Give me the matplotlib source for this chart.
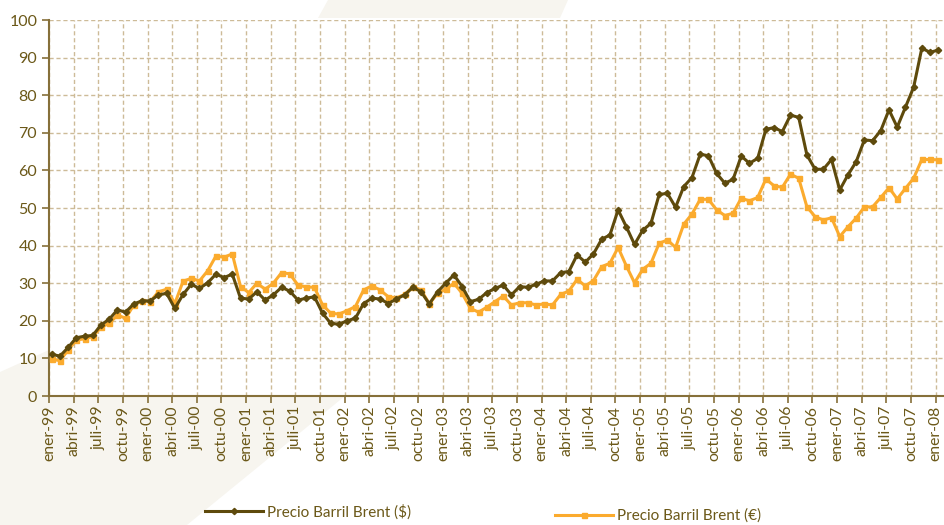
import matplotlib
matplotlib.use('Agg')
import matplotlib.pyplot as plt
from matplotlib.patches import Polygon
import numpy as np

plt.rcParams['font.family'] = ['Lato', 'DejaVu Sans']

# Precio barril Brent, mensual ene-99 .. ene-08
brent_usd = [11.1, 10.6, 12.9, 15.5, 15.9, 16.1, 18.9, 20.4, 22.9, 22.3, 24.5, 25.3,
             25.3, 26.9, 27.3, 23.3, 27.0, 29.7, 28.6, 30.1, 32.4, 31.5, 32.4, 26.0,
             25.8, 27.7, 25.5, 26.9, 28.9, 27.9, 25.5, 26.0, 26.4, 22.0, 19.3, 19.1,
             20.0, 20.7, 24.6, 26.0, 25.8, 24.6, 25.8, 26.9, 28.9, 27.7, 24.5, 27.7,
             30.0, 32.2, 29.1, 25.1, 25.7, 27.5, 28.6, 29.5, 26.9, 29.1, 28.9, 29.7,
             30.6, 30.6, 32.8, 33.1, 37.5, 35.6, 37.8, 41.7, 42.8, 49.5, 45.0, 40.3,
             44.1, 45.9, 53.6, 53.9, 50.2, 55.7, 58.1, 64.3, 63.9, 59.2, 56.6, 57.6,
             63.8, 61.9, 63.2, 70.9, 71.4, 70.3, 74.7, 74.1, 64.1, 60.3, 60.3, 62.9,
             54.8, 58.8, 62.3, 68.1, 67.9, 70.6, 76.1, 71.5, 76.8, 82.1, 92.5, 91.4,
             92.0]
brent_eur = [9.8, 9.4, 12.2, 14.9, 15.2, 15.8, 18.3, 19.3, 21.5, 20.7, 24.2, 25.3,
             25.1, 27.7, 28.4, 24.6, 30.5, 31.3, 30.6, 33.3, 37.2, 36.9, 37.8, 29.1,
             27.5, 30.0, 28.4, 30.0, 32.8, 32.5, 29.5, 29.0, 28.9, 24.2, 22.0, 21.8,
             22.7, 23.8, 28.2, 29.3, 28.2, 26.4, 26.1, 27.0, 29.1, 28.2, 24.5, 27.3,
             28.4, 30.0, 27.3, 23.3, 22.3, 23.6, 25.1, 26.6, 24.2, 24.8, 24.8, 24.2,
             24.5, 24.2, 27.0, 27.9, 31.0, 29.3, 30.7, 34.4, 35.3, 39.5, 34.6, 30.1,
             33.7, 35.3, 40.6, 41.5, 39.5, 45.7, 48.4, 52.3, 52.3, 49.5, 48.0, 48.6,
             52.6, 51.9, 52.8, 57.7, 55.9, 55.5, 59.0, 57.9, 50.3, 47.7, 46.8, 47.4,
             42.4, 45.0, 47.3, 50.3, 50.3, 52.8, 55.4, 52.4, 55.2, 57.9, 62.9, 62.9,
             62.8]

meses = ['ener', 'abri', 'juli', 'octu']
anios = ['99', '00', '01', '02', '03', '04', '05', '06', '07', '08']
etiquetas = [m + '-' + a for a in anios for m in meses][:37]

col_usd = '#5e4a0c'
col_eur = '#fbab2e'
col_txt = '#6b5818'
col_eje = '#86703a'
col_grid = '#cdbb98'

fig = plt.figure(figsize=(9.44, 5.25), dpi=100)

# fondo decorativo (detras de todo)
fondo = '#f7f5ef'
fig.patches.append(Polygon([(0, 0), (187 / 944, 0), (345 / 944, 1 - 396 / 525),
                            (49 / 944, 1 - 396 / 525), (49 / 944, 1 - 350 / 525),
                            (0, 1 - 372 / 525)],
                           closed=True, transform=fig.transFigure,
                           facecolor=fondo, edgecolor='none', zorder=-5))
fig.patches.append(Polygon([(328 / 944, 1), (568 / 944, 1), (560 / 944, 1 - 18 / 525),
                            (318 / 944, 1 - 18 / 525)],
                           closed=True, transform=fig.transFigure,
                           facecolor=fondo, edgecolor='none', zorder=-5))

ax = fig.add_axes([49 / 944, 1 - 396 / 525, 895 / 944, 376 / 525])
ax.set_facecolor('white')

x = np.arange(len(brent_usd))
l1, = ax.plot(x, brent_usd, color=col_usd, lw=2.2, marker='D', ms=3.2,
              label='Precio Barril Brent ($)', zorder=4)
l2, = ax.plot(x, brent_eur, color=col_eur, lw=2.2, marker='s', ms=3.6,
              label='Precio Barril Brent (€)', zorder=3)

ax.set_xlim(-0.33, 108.7)
ax.set_ylim(0, 100)
ax.set_yticks(range(0, 101, 10))
ax.set_xticks(np.arange(37) * 3 - 0.33)
ax.set_xticklabels(etiquetas, rotation=90, fontsize=11.3, color=col_txt)
ax.tick_params(axis='y', labelsize=11.5, labelcolor=col_txt, color=col_eje,
               length=5, width=1.2)
ax.tick_params(axis='x', color=col_eje, length=5, width=1.2, pad=2)

ax.grid(True, color=col_grid, linestyle=(0, (3, 2)), linewidth=1)
ax.set_axisbelow(True)
for s in ['top', 'right']:
    ax.spines[s].set_visible(False)
for s in ['left', 'bottom']:
    ax.spines[s].set_color(col_eje)
    ax.spines[s].set_linewidth(1.5)

leg1 = fig.legend(handles=[l1], loc='center left', bbox_to_anchor=(205 / 944, 1 - 512 / 525),
                  frameon=False, fontsize=11, handlelength=3.8, handletextpad=0.25,
                  labelcolor=col_txt, borderpad=0, borderaxespad=0)
leg2 = fig.legend(handles=[l2], loc='center left', bbox_to_anchor=(555 / 944, 1 - 516 / 525),
                  frameon=False, fontsize=11, handlelength=3.8, handletextpad=0.25,
                  labelcolor=col_txt, borderpad=0, borderaxespad=0)

fig.savefig('out.png', dpi=100)
